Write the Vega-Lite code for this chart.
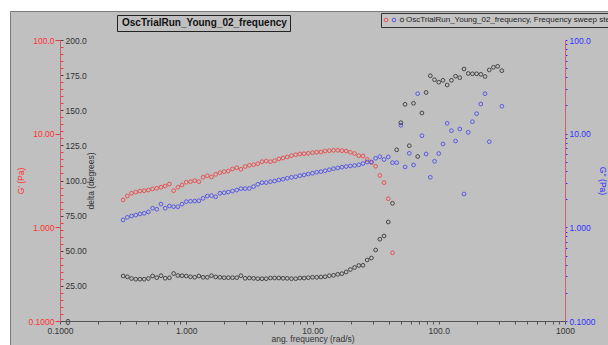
{
  "$schema": "https://vega.github.io/schema/vega-lite/v6.json",
  "autosize": {"type": "none"},
  "width": 598,
  "height": 334,
  "padding": {"left": 10, "top": 11, "right": 0, "bottom": 0},
  "background": "#ffffff",
  "config": {
    "view": {"stroke": "#7a7a7a", "strokeWidth": 1, "fill": "#c0c0c0"},
    "font": "Liberation Sans",
    "legend": {"symbolSize": 14},
    "axis": {"grid": false, "labelFont": "Liberation Sans", "titleFont": "Liberation Sans", "labelFontSize": 8.5, "titleFontSize": 8.5, "titleFontWeight": "normal", "labelOverlap": false, "labelFlush": false}
  },
  "data": {"values": [
    {"f":0.3162,"gp":1.96,"gpp":1.20,"d":32.03},
    {"f":0.3415,"gp":2.16,"gpp":1.28,"d":31.46},
    {"f":0.3687,"gp":2.31,"gpp":1.32,"d":30.25},
    {"f":0.3981,"gp":2.38,"gpp":1.35,"d":29.75},
    {"f":0.4299,"gp":2.44,"gpp":1.39,"d":29.75},
    {"f":0.4642,"gp":2.46,"gpp":1.41,"d":29.75},
    {"f":0.5012,"gp":2.50,"gpp":1.46,"d":30.25},
    {"f":0.5412,"gp":2.57,"gpp":1.60,"d":32.03},
    {"f":0.5843,"gp":2.61,"gpp":1.56,"d":30.82},
    {"f":0.6310,"gp":2.68,"gpp":1.77,"d":32.24},
    {"f":0.6813,"gp":2.76,"gpp":1.60,"d":30.46},
    {"f":0.7356,"gp":2.90,"gpp":1.69,"d":30.75},
    {"f":0.7943,"gp":2.46,"gpp":1.66,"d":33.81},
    {"f":0.8577,"gp":2.68,"gpp":1.66,"d":32.38},
    {"f":0.9261,"gp":2.83,"gpp":1.77,"d":32.24},
    {"f":1.000,"gp":3.03,"gpp":1.88,"d":32.03},
    {"f":1.080,"gp":3.07,"gpp":1.90,"d":31.46},
    {"f":1.166,"gp":3.15,"gpp":1.91,"d":31.10},
    {"f":1.259,"gp":3.07,"gpp":1.92,"d":32.03},
    {"f":1.359,"gp":3.42,"gpp":2.04,"d":31.10},
    {"f":1.468,"gp":3.56,"gpp":2.16,"d":31.10},
    {"f":1.585,"gp":3.45,"gpp":2.18,"d":32.24},
    {"f":1.711,"gp":3.68,"gpp":2.12,"d":31.32},
    {"f":1.848,"gp":3.83,"gpp":2.31,"d":31.10},
    {"f":1.995,"gp":3.93,"gpp":2.34,"d":30.82},
    {"f":2.154,"gp":3.99,"gpp":2.38,"d":30.82},
    {"f":2.326,"gp":4.20,"gpp":2.44,"d":30.82},
    {"f":2.512,"gp":4.33,"gpp":2.50,"d":30.82},
    {"f":2.712,"gp":4.17,"gpp":2.59,"d":32.24},
    {"f":2.929,"gp":4.46,"gpp":2.59,"d":30.39},
    {"f":3.162,"gp":4.60,"gpp":2.60,"d":30.60},
    {"f":3.415,"gp":4.66,"gpp":2.72,"d":30.39},
    {"f":3.687,"gp":4.78,"gpp":2.88,"d":30.11},
    {"f":3.981,"gp":5.02,"gpp":3.00,"d":30.11},
    {"f":4.299,"gp":5.11,"gpp":3.00,"d":30.11},
    {"f":4.642,"gp":5.02,"gpp":3.07,"d":30.60},
    {"f":5.012,"gp":5.14,"gpp":3.12,"d":30.60},
    {"f":5.412,"gp":5.37,"gpp":3.20,"d":30.60},
    {"f":5.843,"gp":5.50,"gpp":3.26,"d":30.39},
    {"f":6.310,"gp":5.64,"gpp":3.34,"d":30.39},
    {"f":6.813,"gp":5.82,"gpp":3.42,"d":30.11},
    {"f":7.356,"gp":5.96,"gpp":3.47,"d":30.11},
    {"f":7.943,"gp":6.07,"gpp":3.56,"d":30.60},
    {"f":8.577,"gp":6.11,"gpp":3.62,"d":30.60},
    {"f":9.261,"gp":6.17,"gpp":3.71,"d":30.82},
    {"f":10.00,"gp":6.26,"gpp":3.78,"d":31.10},
    {"f":10.80,"gp":6.33,"gpp":3.87,"d":31.10},
    {"f":11.66,"gp":6.37,"gpp":3.93,"d":31.32},
    {"f":12.59,"gp":6.53,"gpp":4.02,"d":31.53},
    {"f":13.59,"gp":6.58,"gpp":4.12,"d":32.24},
    {"f":14.68,"gp":6.64,"gpp":4.23,"d":32.53},
    {"f":15.85,"gp":6.64,"gpp":4.31,"d":33.24},
    {"f":17.11,"gp":6.58,"gpp":4.39,"d":33.67},
    {"f":18.48,"gp":6.53,"gpp":4.46,"d":34.88},
    {"f":19.95,"gp":6.33,"gpp":4.52,"d":36.65},
    {"f":21.54,"gp":6.14,"gpp":4.57,"d":38.08},
    {"f":23.26,"gp":5.82,"gpp":4.65,"d":39.50},
    {"f":25.12,"gp":5.78,"gpp":4.80,"d":39.64},
    {"f":27.12,"gp":5.30,"gpp":4.98,"d":43.42},
    {"f":29.29,"gp":4.92,"gpp":4.98,"d":44.84},
    {"f":31.62,"gp":4.49,"gpp":5.46,"d":50.53},
    {"f":34.15,"gp":3.58,"gpp":5.68,"d":58.22},
    {"f":36.87,"gp":3.00,"gpp":5.30,"d":60.50},
    {"f":39.81,"gp":2.02,"gpp":5.64,"d":70.46},
    {"f":42.99,"gp":0.536,"gpp":4.90,"d":83.77},
    {"f":46.42,"gp":null,"gpp":4.90,"d":121.85},
    {"f":50.12,"gp":null,"gpp":12.28,"d":141.14},
    {"f":54.12,"gp":null,"gpp":4.41,"d":154.23},
    {"f":58.43,"gp":null,"gpp":6.17,"d":124.77},
    {"f":63.10,"gp":null,"gpp":4.63,"d":154.95},
    {"f":68.13,"gp":null,"gpp":26.7,"d":117.08},
    {"f":73.56,"gp":null,"gpp":9.51,"d":148.04},
    {"f":79.43,"gp":null,"gpp":6.07,"d":162.63},
    {"f":85.77,"gp":null,"gpp":3.42,"d":174.52},
    {"f":92.61,"gp":null,"gpp":5.07,"d":171.74},
    {"f":100.0,"gp":null,"gpp":6.14,"d":169.96},
    {"f":108.0,"gp":null,"gpp":7.76,"d":171.32},
    {"f":116.6,"gp":null,"gpp":12.90,"d":167.97},
    {"f":125.9,"gp":null,"gpp":10.76,"d":171.32},
    {"f":135.9,"gp":null,"gpp":8.35,"d":174.23},
    {"f":146.8,"gp":null,"gpp":11.22,"d":173.17},
    {"f":158.5,"gp":null,"gpp":2.27,"d":179.36},
    {"f":171.1,"gp":null,"gpp":10.34,"d":176.16},
    {"f":184.8,"gp":null,"gpp":13.42,"d":175.94},
    {"f":199.5,"gp":null,"gpp":16.34,"d":175.94},
    {"f":215.4,"gp":null,"gpp":20.7,"d":175.59},
    {"f":232.6,"gp":null,"gpp":26.7,"d":174.02},
    {"f":251.2,"gp":null,"gpp":8.21,"d":178.65},
    {"f":271.2,"gp":null,"gpp":null,"d":180.57},
    {"f":292.9,"gp":null,"gpp":null,"d":181.28},
    {"f":316.2,"gp":null,"gpp":19.6,"d":178.15}
  ]},
  "encoding": {
    "x": {
      "field": "f", "type": "quantitative",
      "scale": {"type": "log", "domain": [0.1, 1000], "range": [50, 555], "nice": false},
      "axis": {
        "title": "ang. frequency (rad/s)", "offset": -24,
        "values": [0.1,0.2,0.3,0.4,0.5,0.6,0.7,0.8,0.9,1,2,3,4,5,6,7,8,9,10,20,30,40,50,60,70,80,90,100,200,300,400,500,600,700,800,900,1000],
        "labelExpr": "abs(log(datum.value)/LN10 - round(log(datum.value)/LN10)) < 0.001 ? format(datum.value, '.4r') : ''",
        "domainColor": "#555555", "tickColor": "#555555", "tickSize": 3,
        "labelColor": "#333333", "titleColor": "#333333",
        "labelPadding": 2, "titlePadding": 0
      }
    }
  },
  "layer": [
    {
      "mark": {"type": "point", "filled": false, "size": 14, "strokeWidth": 1, "opacity": 0.85},
      "encoding": {
        "y": {
          "field": "gp", "type": "quantitative",
          "scale": {"type": "log", "domain": [0.1, 100], "range": [310, 29], "nice": false},
          "axis": {
            "orient": "left", "offset": -50, "title": "G' (Pa)", "values": [0.1, 1, 10, 100], "format": ".4r",
            "labelColor": "#ff3030", "titleColor": "#ff3030", "domainColor": "#d85a6e", "tickColor": "#e04040",
            "tickSize": 5, "labelPadding": 1,
            "titleAngle": -90, "titleX": -35, "titleY": 169.5, "titleBaseline": "bottom", "titleAlign": "center"
          }
        },
        "color": {
          "datum": "G'",
          "scale": {"domain": ["G'", "G''", "delta"], "range": ["#ee4040", "#4848ee", "#303030"]},
          "legend": {
            "orient": "none", "legendX": 371, "legendY": 2, "direction": "horizontal", "title": null,
            "symbolType": "circle", "symbolSize": 14, "symbolStrokeWidth": 1, "symbolOffset": -2,
            "labelExpr": "datum.label == 'delta' ? 'OscTrialRun_Young_02_frequency, Frequency sweep step' : ''",
            "labelFontSize": 8, "labelColor": "#222222", "labelOffset": 0, "columnPadding": 0, "labelLimit": 400,
            "strokeColor": "#333333", "fillColor": "#c4c4c4", "padding": 3
          }
        }
      }
    },
    {
      "mark": {"type": "point", "filled": false, "size": 14, "strokeWidth": 1, "opacity": 0.85},
      "encoding": {
        "y": {
          "field": "gpp", "type": "quantitative",
          "scale": {"type": "log", "domain": [0.1, 100], "range": [310, 29], "nice": false},
          "axis": {
            "orient": "right", "offset": -43, "title": "G'' (Pa)",
            "values": [0.1,0.2,0.3,0.4,0.5,0.6,0.7,0.8,0.9,1,2,3,4,5,6,7,8,9,10,20,30,40,50,60,70,80,90,100],
            "labelExpr": "abs(log(datum.value)/LN10 - round(log(datum.value)/LN10)) < 0.001 ? format(datum.value, '.4r') : ''",
            "labelColor": "#3030ff", "titleColor": "#3030ff", "domainColor": "#d85a6e", "tickColor": "#3030ff",
            "tickSize": 2, "labelPadding": 2,
            "titleAngle": 90, "titleX": 32, "titleY": 169.5, "titleBaseline": "bottom", "titleAlign": "center"
          }
        },
        "color": {"datum": "G''"}
      }
    },
    {
      "mark": {"type": "point", "filled": false, "size": 14, "strokeWidth": 1, "opacity": 0.85},
      "encoding": {
        "y": {
          "field": "d", "type": "quantitative",
          "scale": {"domain": [0, 200], "range": [310, 29], "nice": false},
          "axis": {
            "orient": "left", "offset": -50, "title": "delta (degrees)",
            "values": [0,5,10,15,20,25,30,35,40,45,50,55,60,65,70,75,80,85,90,95,100,105,110,115,120,125,130,135,140,145,150,155,160,165,170,175,180,185,190,195,200],
            "labelExpr": "datum.value % 25 == 0 ? (datum.value == 0 ? '0' : format(datum.value, '.4r')) : ''",
            "labelAlign": "left", "labelPadding": -2, "tickSize": -3,
            "tickColor": {"condition": {"test": "datum.value % 25 == 0", "value": "#444444"}, "value": "#e04040"},
            "labelColor": "#333333", "titleColor": "#333333", "domainColor": "#d85a6e",
            "titleAngle": -90, "titleX": 35, "titleY": 169.5, "titleBaseline": "bottom", "titleAlign": "center"
          }
        },
        "color": {"datum": "delta"},
        "shape": {
          "datum": "OscTrialRun_Young_02_frequency",
          "scale": {"range": ["circle"]},
          "legend": {
            "orient": "none", "legendX": 107, "legendY": 4, "title": null,
            "symbolSize": 0.01, "symbolOpacity": 0, "symbolStrokeWidth": 0, "labelOffset": -8,
            "labelFontSize": 10, "labelFontWeight": "bold", "labelColor": "#111111", "labelLimit": 300,
            "strokeColor": "#222222", "fillColor": "#c0c0c0", "padding": 3
          }
        }
      }
    },
    {
      "data": {"values": [{}]},
      "mark": {
        "type": "text", "align": "left", "baseline": "top", "fontSize": 8.5, "lineHeight": 10.3, "color": "#222222",
        "text": ["G cross-over point", "Cross-over points: 1", "ang. frequency: 29.19 rad/s", "G': 4.945 Pa", "End condition: Finished normally"]
      },
      "encoding": {
        "x": {"datum": 1.0, "type": "quantitative"},
        "y": {"datum": 184.7, "type": "quantitative", "scale": {"domain": [0, 200], "range": [310, 29], "nice": false}, "axis": null}
      }
    }
  ],
  "resolve": {"scale": {"y": "independent"}}
}
